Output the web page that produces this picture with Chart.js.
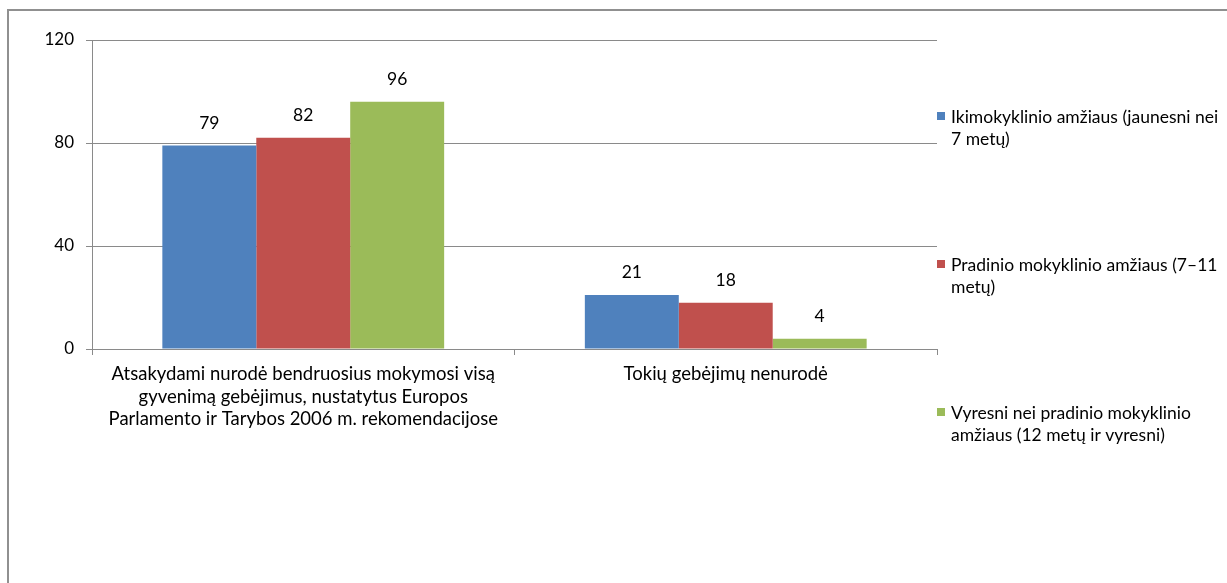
<!DOCTYPE html>
<html>
<head>
<meta charset="utf-8">
<script src="https://cdn.jsdelivr.net/npm/chart.js@4"></script>
<style>
html,body{margin:0;padding:0;background:#fff;}
#wrap{position:relative;width:1227px;height:583px;}
</style>
</head>
<body>
<div id="wrap"><canvas id="c" width="1227" height="583"></canvas></div>
<script>
const categories = [
  ["Atsakydami nurodė bendruosius mokymosi visą", "gyvenimą gebėjimus, nustatytus Europos", "Parlamento ir Tarybos 2006 m. rekomendacijose"],
  ["Tokių gebėjimų nenurodė"]
];
const seriesNames = [
  ["Ikimokyklinio amžiaus (jaunesni nei", "7 metų)"],
  ["Pradinio mokyklinio amžiaus (7–11", "metų)"],
  ["Vyresni nei pradinio mokyklinio", "amžiaus (12 metų ir vyresni)"]
];
const preschool = [79, 21];
const primary = [82, 18];
const older = [96, 4];
const yTicks = [0, 40, 80, 120];

const colors = ['#4F81BD', '#C0504D', '#9BBB59'];
const FONT = 'Lato, "Open Sans", sans-serif';
const lineCol = '#8a8a8a';

const framePlugin = {
  id: 'frame',
  afterDraw(chart) {
    const ctx = chart.ctx;
    ctx.save();
    ctx.fillStyle = '#909090';
    ctx.fillRect(7, 9, 2, 583);
    ctx.fillRect(7, 9, 1220, 2);
    ctx.restore();
  }
};

const valueLabels = {
  id: 'valueLabels',
  afterDatasetsDraw(chart) {
    const ctx = chart.ctx;
    ctx.save();
    ctx.font = '17.5px ' + FONT;
    ctx.fillStyle = '#000';
    ctx.textAlign = 'center';
    ctx.textBaseline = 'alphabetic';
    chart.data.datasets.forEach((ds, di) => {
      const meta = chart.getDatasetMeta(di);
      meta.data.forEach((bar, i) => {
        ctx.fillText(String(ds.data[i]), bar.x, bar.y - 17);
      });
    });
    ctx.restore();
  }
};

const sideLegend = {
  id: 'sideLegend',
  afterDraw(chart) {
    const ctx = chart.ctx;
    ctx.save();
    ctx.font = '17.5px ' + FONT;
    ctx.textBaseline = 'middle';
    ctx.textAlign = 'left';
    chart.data.datasets.forEach((ds, di) => {
      const y0 = 116 + di * 148;
      ctx.fillStyle = ds.backgroundColor;
      ctx.fillRect(937, y0 - 4, 8, 8);
      ctx.fillStyle = '#000';
      seriesNames[di].forEach((line, li) => {
        ctx.fillText(line, 951, y0 + 1 + li * 22);
      });
    });
    ctx.restore();
  }
};

new Chart(document.getElementById('c'), {
  type: 'bar',
  data: {
    labels: categories,
    datasets: [
      { label: seriesNames[0].join(' '), data: preschool, backgroundColor: colors[0] },
      { label: seriesNames[1].join(' '), data: primary, backgroundColor: colors[1] },
      { label: seriesNames[2].join(' '), data: older, backgroundColor: colors[2] }
    ]
  },
  options: {
    responsive: false,
    animation: false,
    events: [],
    categoryPercentage: 0.667,
    barPercentage: 1.0,
    layout: { padding: { top: 40, right: 290, bottom: 0, left: 0 } },
    plugins: { legend: { display: false }, tooltip: { enabled: false }, title: { display: false } },
    scales: {
      x: {
        offset: true,
        grid: { display: true, drawOnChartArea: false, drawTicks: true, tickLength: 6, color: lineCol, offset: true },
        border: { color: lineCol },
        ticks: { font: { family: FONT, size: 18.5, lineHeight: 1.216 }, color: '#000', padding: 8, maxRotation: 0, autoSkip: false },
        afterFit(scale) { scale.height = 234; }
      },
      y: {
        min: 0, max: 120,
        afterBuildTicks(scale) { scale.ticks = yTicks.map(v => ({ value: v })); },
        grid: { color: lineCol, tickLength: 6, drawTicks: true },
        border: { color: lineCol },
        ticks: { font: { family: FONT, size: 17 }, color: '#000', padding: 12 },
        afterFit(scale) { scale.width = 92; }
      }
    }
  },
  plugins: [framePlugin, valueLabels, sideLegend]
});
</script>
</body>
</html>
